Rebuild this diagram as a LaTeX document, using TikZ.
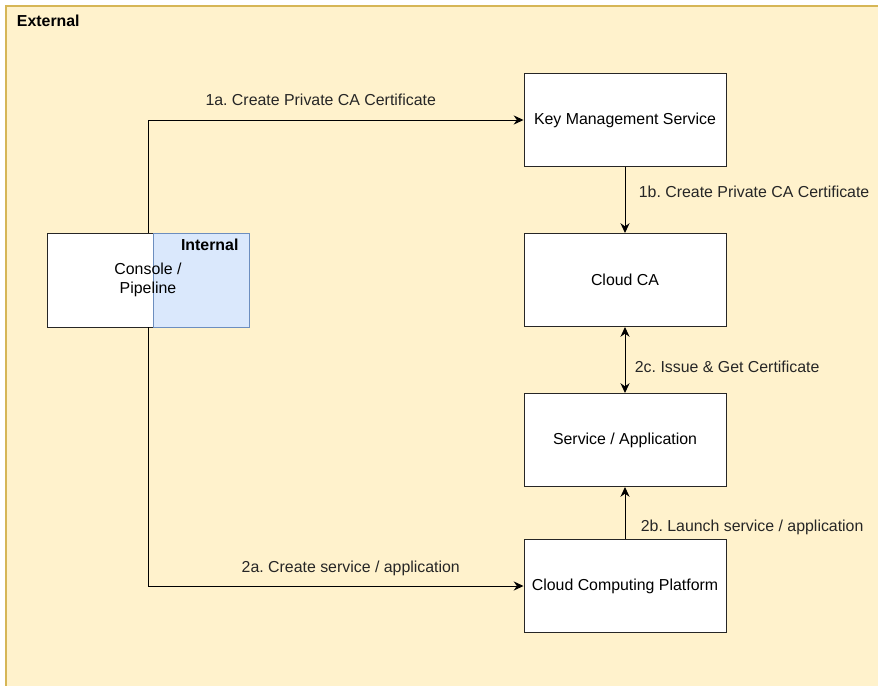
\documentclass[tikz,border=0pt]{standalone}
\usepackage{fontspec}
\setmainfont{Liberation Sans}
\usetikzlibrary{arrows.meta}

\definecolor{extfill}{HTML}{FFF2CC}
\definecolor{extline}{HTML}{D6B656}
\definecolor{intfill}{HTML}{DAE8FC}
\definecolor{intline}{HTML}{6C8EBF}

\begin{document}
\frenchspacing
\begin{tikzpicture}[
		font=\fontsize{11.3}{13.5}\selectfont,
		box/.style={draw=black!85, fill=white, line width=0.7pt, rectangle, align=center,
			minimum width=5.05cm, minimum height=2.325cm, inner sep=1pt},
		flow/.style={line width=0.7pt, -{Stealth[length=7pt,width=6.5pt]}},
		lbl/.style={inner sep=1pt, text=black!85}
	]
	\useasboundingbox (0,0) rectangle (21.95,-17.125);

	% outer zone
	\fill[extfill, draw=extline, line width=0.8pt] (0.15,-0.15) rectangle (22.5,-17.6);
	\node[anchor=north west, font=\fontsize{11.3}{13.5}\selectfont\bfseries] (ext) at (0.3,-0.25) {External};

	% console sits half inside the internal zone
	\node[box, minimum width=5.05cm, minimum height=2.35cm] (console) at (3.7,-7.0) {};
	\node[draw=intline, fill=intfill, line width=0.7pt, minimum width=2.4cm, minimum height=2.35cm] (int) at (5.025,-7.0) {};
	\node[anchor=north east, font=\fontsize{11.3}{13.5}\selectfont\bfseries, inner sep=0pt] (intlbl) at ([xshift=-0.27cm, yshift=-0.15cm]int.north east) {Internal};
	\node[align=center, inner sep=0pt] (consolelbl) at (console.center) {Console /\\Pipeline};

	% services
	\node[box] (kms) at (15.625,-3.0) {Key Management Service};
	\node[box] (ca) at (15.625,-7.0) {Cloud CA};
	\node[box] (svc) at (15.625,-11.0) {Service / Application};
	\node[box] (ccp) at (15.625,-14.65) {Cloud Computing Platform};

	% connectors
	\draw[flow] (console.north) |- (kms.west)
		node[lbl, above=0.3cm, pos=0.73] {1a. Create Private CA Certificate};
	\draw[flow] (kms) -- (ca)
		node[lbl, right=0.3cm, pos=0.38] {1b. Create Private CA Certificate};
	\draw[line width=0.7pt, {Stealth[length=7pt,width=6.5pt]}-{Stealth[length=7pt,width=6.5pt]}] (ca) -- (svc)
		node[lbl, right=0.2cm, pos=0.6] {2c. Issue \& Get Certificate};
	\draw[flow] (ccp) -- (svc)
		node[lbl, right=0.35cm, pos=0.22] {2b. Launch service / application};
	\draw[flow] (console.south) |- (ccp.west)
		node[lbl, above=0.2cm, pos=0.77] {2a. Create service / application};
\end{tikzpicture}
\end{document}
